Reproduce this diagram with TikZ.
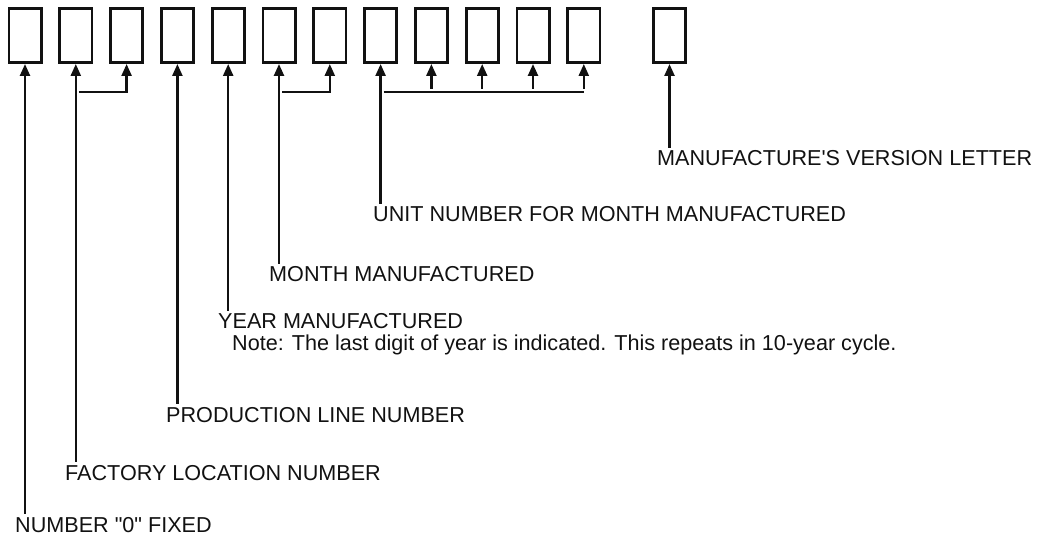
\documentclass[tikz,border=0pt]{standalone}
\usepackage{fontspec}
\setmainfont{Liberation Sans}
\usepackage{xcolor}
\usetikzlibrary{positioning, arrows.meta}
\definecolor{sInk}{HTML}{111111}

\begin{document}
\begin{tikzpicture}[x=1pt, y=-1pt, >={Triangle[length=12pt,width=10pt]},
  digit/.style={draw=sInk, line width=2.8pt, minimum width=32.2pt, minimum height=54.2pt, inner sep=0pt},
  lbl/.style={anchor=base west, inner sep=0pt, font=\fontsize{21.6}{26}\selectfont, text=sInk},
  lead/.style={draw=sInk, line width=2.4pt, shorten <=3pt}]
  \useasboundingbox (0,0) rectangle (1050,545);
  % code boxes
  \foreach \i in {1,...,12}
    \node[digit] (b\i) at ({25+50.8*(\i-1)},35.5) {};
  \node[digit] (b13) at (669.5,35.5) {};
  % labels
  \node[lbl] (t1) at (15,532) {NUMBER \textquotedbl 0\textquotedbl\ FIXED};
  \node[lbl] (t2) at (65,480) {FACTORY LOCATION NUMBER};
  \node[lbl] (t4) at (166,422) {PRODUCTION LINE NUMBER};
  \node[lbl] (t5) at (218,329) {YEAR MANUFACTURED};
  \node[lbl] (n5) at (232,351) {Note: The last digit of year is indicated. This repeats in 10-year cycle.};
  \node[lbl] (t6) at (269,282) {MONTH MANUFACTURED};
  \node[lbl] (t8) at (373,222) {UNIT NUMBER FOR MONTH MANUFACTURED};
  \node[lbl] (t13) at (657,166) {MANUFACTURE\textquotesingle S VERSION LETTER};
  % leaders
  \draw[lead,->] (t1.north -| b1.south) -- (b1.south);
  \draw[lead,->] (t2.north -| b2.south) -- (b2.south);
  \draw[lead,->] (t4.north -| b4.south) -- (b4.south);
  \draw[lead,->] (t5.north -| b5.south) -- (b5.south);
  \draw[lead,->] (t6.north -| b6.south) -- (b6.south);
  \draw[lead,->] (t8.north -| b8.south) -- (b8.south);
  \draw[lead,->] (t13.north -| b13.south) -- (b13.south);
  % joins
  \coordinate (j2) at (b2.south |- 0,92);
  \coordinate (j6) at (b6.south |- 0,92);
  \coordinate (j8) at (b8.south |- 0,92);
  \draw[lead,->] (j2) -| (b3.south);
  \draw[lead,->] (j6) -| (b7.south);
  \draw[lead] (j8) -- (j8 -| b12.south);
  \foreach \i in {9,...,12}
    \draw[lead,->] (j8 -| b\i.south) -- (b\i.south);
\end{tikzpicture}
\end{document}
